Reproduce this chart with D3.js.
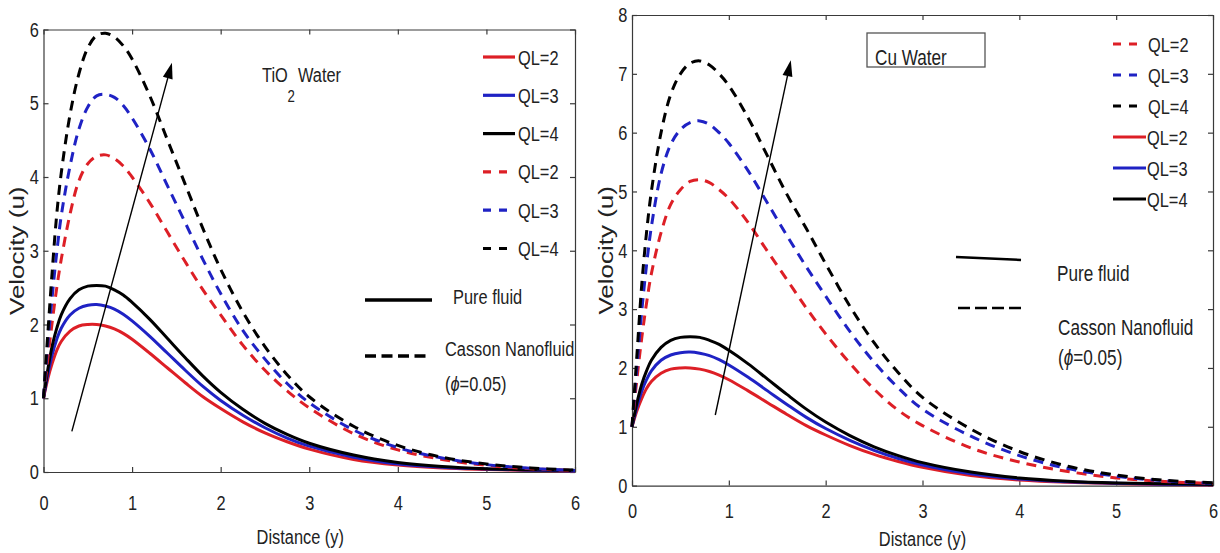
<!DOCTYPE html>
<html>
<head>
<meta charset="utf-8">
<script src="https://cdn.jsdelivr.net/npm/d3@7"></script>
<style>
body { margin: 0; background: #fff; }
text { font-family: "Liberation Sans", Arial, sans-serif; fill: #222; }
</style>
</head>
<body>
<div id="chart"></div>
<script>
// distance (y) sample points
var xs = [0, 0.05, 0.1, 0.15, 0.2, 0.3, 0.4, 0.5, 0.6, 0.7, 0.8, 0.9, 1.0, 1.2, 1.4, 1.6, 1.8, 2.0, 2.25, 2.5, 2.75, 3.0, 3.5, 4.0, 4.5, 5.0, 5.5, 6.0];

// pure fluid (same in both panels)
var pure_ql2 = [1, 1.27, 1.48, 1.65, 1.77, 1.91, 1.98, 2.0, 2.0, 1.98, 1.94, 1.88, 1.8, 1.61, 1.41, 1.21, 1.02, 0.86, 0.68, 0.53, 0.41, 0.31, 0.17, 0.095, 0.055, 0.035, 0.02, 0.012];
var pure_ql3 = [1, 1.33, 1.6, 1.8, 1.95, 2.13, 2.22, 2.26, 2.27, 2.25, 2.21, 2.14, 2.05, 1.84, 1.61, 1.38, 1.16, 0.97, 0.77, 0.6, 0.46, 0.35, 0.2, 0.11, 0.065, 0.04, 0.025, 0.015];
var pure_ql4 = [1, 1.4, 1.72, 1.95, 2.13, 2.35, 2.47, 2.52, 2.53, 2.52, 2.47, 2.4, 2.3, 2.07, 1.81, 1.55, 1.3, 1.08, 0.85, 0.66, 0.51, 0.39, 0.23, 0.13, 0.075, 0.045, 0.03, 0.02];

// Casson nanofluid, TiO2 water
var tio_ql2 = [1, 1.55, 2.05, 2.5, 2.88, 3.5, 3.95, 4.18, 4.28, 4.3, 4.25, 4.15, 4.0, 3.65, 3.25, 2.85, 2.47, 2.13, 1.72, 1.38, 1.1, 0.87, 0.52, 0.3, 0.17, 0.09, 0.045, 0.02];
var tio_ql3 = [1, 1.75, 2.4, 2.98, 3.47, 4.15, 4.65, 4.95, 5.1, 5.12, 5.08, 4.97, 4.8, 4.38, 3.88, 3.38, 2.88, 2.42, 1.92, 1.53, 1.2, 0.94, 0.57, 0.33, 0.19, 0.1, 0.05, 0.02];
var tio_ql4 = [1, 1.9, 2.75, 3.5, 4.05, 4.85, 5.4, 5.75, 5.92, 5.95, 5.9, 5.78, 5.6, 5.1, 4.5, 3.9, 3.3, 2.75, 2.17, 1.7, 1.32, 1.02, 0.62, 0.36, 0.2, 0.11, 0.055, 0.025];

// Casson nanofluid, Cu water
var cu_ql2 = [1, 1.8, 2.5, 3.1, 3.6, 4.3, 4.78, 5.03, 5.17, 5.2, 5.15, 5.03, 4.88, 4.47, 3.98, 3.5, 3.02, 2.58, 2.08, 1.64, 1.28, 1.02, 0.64, 0.4, 0.24, 0.13, 0.07, 0.035];
var cu_ql3 = [1, 2.0, 2.95, 3.75, 4.4, 5.3, 5.8, 6.05, 6.17, 6.2, 6.14, 6.0, 5.82, 5.35, 4.8, 4.25, 3.72, 3.22, 2.62, 2.1, 1.66, 1.3, 0.84, 0.51, 0.29, 0.16, 0.08, 0.04];
var cu_ql4 = [1, 2.2, 3.4, 4.3, 5.0, 6.0, 6.65, 7.0, 7.18, 7.22, 7.15, 7.0, 6.8, 6.25, 5.6, 4.95, 4.37, 3.77, 3.05, 2.43, 1.92, 1.5, 0.96, 0.58, 0.33, 0.18, 0.09, 0.05];

var ql_labels = ["QL=2", "QL=3", "QL=4"];
var x_ticks = [0, 1, 2, 3, 4, 5, 6];
var y_ticks_tio = [0, 1, 2, 3, 4, 5, 6];
var y_ticks_cu = [0, 1, 2, 3, 4, 5, 6, 7, 8];

// arrows, [tail, head] in data units
var arrow_tio = [[0.32, 0.55], [1.45, 5.55]];
var arrow_cu = [[0.86, 1.2], [1.64, 7.23]];

var RED = "#dd1f26", BLUE = "#1f22c4", BLACK = "#000";
var SX = 0.78; // the source figure is squeezed horizontally, so is its text

var svg = d3.select("#chart")
    .append("svg")
    .attr("width", 1220)
    .attr("height", 553);

function label(g, x, y, str, size, anchor) {
    return g.append("text")
        .attr("transform", "translate(" + x + "," + y + ") scale(" + SX + ",1)")
        .attr("font-size", size)
        .attr("text-anchor", anchor || "start")
        .text(str);
}

function panel(p) {
    var g = svg.append("g");

    var x_scale = d3.scaleLinear().domain([0, 6]).range([p.left, p.right]);
    var y_scale = d3.scaleLinear().domain([0, p.ymax]).range([p.bottom, p.top]);
    var fmt = d3.format("d");

    var line = d3.line()
        .x(function(d){ return x_scale(d[0]); })
        .y(function(d){ return y_scale(d[1]); })
        .curve(d3.curveCatmullRom.alpha(0.5));

    // axes, ticks pointing inwards on all four sides
    var bottom = g.append("g")
        .attr("transform", "translate(0," + p.bottom + ")")
        .call(d3.axisBottom(x_scale).tickValues(x_ticks).tickFormat(fmt).tickSizeInner(-5).tickSizeOuter(0).tickPadding(p.xpad));
    var left = g.append("g")
        .attr("transform", "translate(" + p.left + ",0)")
        .call(d3.axisLeft(y_scale).tickValues(p.yticks).tickFormat(fmt).tickSizeInner(-5).tickSizeOuter(0).tickPadding(6));
    g.append("g")
        .attr("transform", "translate(0," + p.top + ")")
        .call(d3.axisTop(x_scale).tickValues(x_ticks).tickSizeInner(-5).tickSizeOuter(0).tickFormat(""));
    g.append("g")
        .attr("transform", "translate(" + p.right + ",0)")
        .call(d3.axisRight(y_scale).tickValues(p.yticks).tickSizeInner(-5).tickSizeOuter(0).tickFormat(""));

    g.selectAll(".domain, .tick line").attr("stroke", "#3a3a3a").attr("stroke-width", 1.2);
    [bottom, left].forEach(function(a){
        a.attr("font-size", 21).attr("font-family", null);
        a.selectAll("text")
            .attr("fill", "#333")
            .attr("transform", "scale(" + SX + ",1)");
    });

    // curves
    p.series.forEach(function(s){
        g.append("path")
            .datum(xs.map(function(v, i){ return [v, s.vals[i]]; }))
            .attr("d", line)
            .attr("fill", "none")
            .attr("stroke", s.color)
            .attr("stroke-width", 3)
            .attr("stroke-dasharray", s.dashed ? "10,7" : null);
    });

    // arrow
    var ax0 = x_scale(p.arrow[0][0]), ay0 = y_scale(p.arrow[0][1]);
    var ax1 = x_scale(p.arrow[1][0]), ay1 = y_scale(p.arrow[1][1]);
    var ang = Math.atan2(ay1 - ay0, ax1 - ax0);
    var hl = 16, hw = 5;
    var bx = ax1 - hl * Math.cos(ang), by = ay1 - hl * Math.sin(ang);
    g.append("line")
        .attr("x1", ax0).attr("y1", ay0).attr("x2", bx).attr("y2", by)
        .attr("stroke", "#000").attr("stroke-width", 1.4);
    g.append("polygon")
        .attr("points", [
            [ax1, ay1],
            [bx + hw * Math.sin(ang), by - hw * Math.cos(ang)],
            [bx - hw * Math.sin(ang), by + hw * Math.cos(ang)]
        ].map(function(q){ return q.join(","); }).join(" "))
        .attr("fill", "#000");

    // axis titles
    label(g, (p.left + p.right) / 2 - p.xtitleShift, p.xtitleY, "Distance (y)", 21, "middle");
    g.append("text")
        .attr("transform", "translate(" + p.ytitleX + "," + (p.top + p.bottom) / 2 + ") scale(" + SX + ",1) rotate(-90)")
        .attr("font-size", 26)
        .attr("text-anchor", "middle")
        .attr("dy", "0.35em")
        .attr("fill", "#333")
        .text("Velocity (u)");

    // QL legend
    p.legend.forEach(function(e, i){
        var y = p.legY + i * p.legStep;
        g.append("line")
            .attr("x1", p.legX).attr("x2", p.legX + (e.dashed ? p.dashLen : p.solidLen))
            .attr("y1", y).attr("y2", y)
            .attr("stroke", e.color).attr("stroke-width", 3.2)
            .attr("stroke-dasharray", e.dashed ? "8,8" : null);
        label(g, p.legX + (e.dashed ? p.dashText : p.solidText), y, e.text, 21).attr("dy", "0.36em");
    });

    return g;
}

var left_g = panel({
    left: 43.5, right: 575, top: 29.5, bottom: 472, ymax: 6, yticks: y_ticks_tio,
    xpad: 23.5, xtitleY: 544, xtitleShift: 9, ytitleX: 17,
    arrow: arrow_tio,
    series: [
        { vals: pure_ql2, color: RED }, { vals: pure_ql3, color: BLUE }, { vals: pure_ql4, color: BLACK },
        { vals: tio_ql2, color: RED, dashed: true }, { vals: tio_ql3, color: BLUE, dashed: true }, { vals: tio_ql4, color: BLACK, dashed: true }
    ],
    legX: 483, legY: 57, legStep: 38.3, solidLen: 32, dashLen: 24, solidText: 35, dashText: 35,
    legend: [
        { text: ql_labels[0], color: RED }, { text: ql_labels[1], color: BLUE }, { text: ql_labels[2], color: BLACK },
        { text: ql_labels[0], color: RED, dashed: true }, { text: ql_labels[1], color: BLUE, dashed: true }, { text: ql_labels[2], color: BLACK, dashed: true }
    ]
});

var right_g = panel({
    left: 632, right: 1213, top: 15, bottom: 485.6, ymax: 8, yticks: y_ticks_cu,
    xpad: 17, xtitleY: 546, xtitleShift: 0, ytitleX: 606,
    arrow: arrow_cu,
    series: [
        { vals: pure_ql2, color: RED }, { vals: pure_ql3, color: BLUE }, { vals: pure_ql4, color: BLACK },
        { vals: cu_ql2, color: RED, dashed: true }, { vals: cu_ql3, color: BLUE, dashed: true }, { vals: cu_ql4, color: BLACK, dashed: true }
    ],
    legX: 1113, legY: 44, legStep: 31, solidLen: 33, dashLen: 25, solidText: 34, dashText: 35,
    legend: [
        { text: ql_labels[0], color: RED, dashed: true }, { text: ql_labels[1], color: BLUE, dashed: true }, { text: ql_labels[2], color: BLACK, dashed: true },
        { text: ql_labels[0], color: RED }, { text: ql_labels[1], color: BLUE }, { text: ql_labels[2], color: BLACK }
    ]
});

// TiO2 Water label
label(left_g, 262, 81.7, "TiO", 21);
label(left_g, 287.5, 102, "2", 17);
label(left_g, 298, 81.7, "Water", 21);

// fluid type key, left
left_g.append("line").attr("x1", 365).attr("x2", 432).attr("y1", 300).attr("y2", 300)
    .attr("stroke", "#000").attr("stroke-width", 3.5);
left_g.append("line").attr("x1", 365).attr("x2", 431).attr("y1", 356).attr("y2", 356)
    .attr("stroke", "#000").attr("stroke-width", 3.5).attr("stroke-dasharray", "11,5.5");
label(left_g, 453, 304, "Pure fluid", 21);
label(left_g, 445, 355.5, "Casson Nanofluid", 21);
var phi_l = label(left_g, 445, 390.5, "(", 21);
phi_l.append("tspan").attr("font-style", "italic").text("\u03d5");
phi_l.append("tspan").text("=0.05)");

// Cu Water label
right_g.append("rect").attr("x", 867).attr("y", 33).attr("width", 118).attr("height", 34)
    .attr("fill", "#fff").attr("stroke", "#555").attr("stroke-width", 1.3);
label(right_g, 875, 65, "Cu Water", 22);

// fluid type key, right
right_g.append("line").attr("x1", 956).attr("x2", 1021).attr("y1", 257).attr("y2", 260)
    .attr("stroke", "#000").attr("stroke-width", 2.5);
right_g.append("line").attr("x1", 958).attr("x2", 1021).attr("y1", 308).attr("y2", 308)
    .attr("stroke", "#000").attr("stroke-width", 2.5).attr("stroke-dasharray", "12,5");
label(right_g, 1057, 281, "Pure fluid", 22);
label(right_g, 1058, 335, "Casson Nanofluid", 22);
var phi_r = label(right_g, 1058, 365, "(", 22);
phi_r.append("tspan").attr("font-style", "italic").text("\u03d5");
phi_r.append("tspan").text("=0.05)");
</script>
</body>
</html>
